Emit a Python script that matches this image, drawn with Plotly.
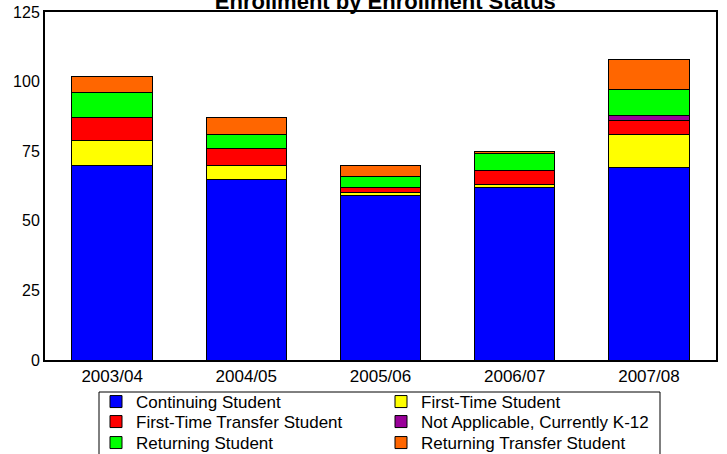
import plotly.graph_objects as go

years = ["2003/04", "2004/05", "2005/06", "2006/07", "2007/08"]
continuing = [70, 65, 59, 62, 69]
first_time = [9, 5, 1, 1, 12]
first_time_transfer = [8, 6, 2, 5, 5]
not_applicable = [0, 0, 0, 0, 2]
returning = [9, 5, 4, 6, 9]
returning_transfer = [6, 6, 4, 1, 11]

series = [
    ("Continuing Student", continuing, "#0000FF", "legend"),
    ("First-Time Student", first_time, "#FFFF00", "legend"),
    ("First-Time Transfer Student", first_time_transfer, "#FF0000", "legend2"),
    ("Not Applicable, Currently K-12", not_applicable, "#990099", "legend2"),
    ("Returning Student", returning, "#00FF00", "legend3"),
    ("Returning Transfer Student", returning_transfer, "#FF6600", "legend3"),
]

fig = go.Figure()
for name, vals, color, leg in series:
    fig.add_trace(go.Bar(
        x=years, y=vals, name=name, legend=leg,
        marker=dict(color=color, line=dict(color="#000000", width=1)),
    ))

font_family = "Liberation Sans, Arial, sans-serif"

# plot area in pixels: x 45..716, y 12..360
def px_x(p):
    return (p - 45) / 671.0

def px_y(p):
    return (360 - p) / 348.0

def row_legend(yc):
    return dict(
        orientation="h", traceorder="normal",
        x=px_x(96), xanchor="left",
        y=px_y(yc), yanchor="middle",
        entrywidth=240,
        borderwidth=0, bgcolor="rgba(0,0,0,0)",
        font=dict(family=font_family, size=17, color="black"),
    )

fig.update_layout(
    barmode="stack",
    bargap=0.4,
    width=727, height=454,
    margin=dict(l=45, r=11, t=12, b=94, autoexpand=False),
    paper_bgcolor="white",
    plot_bgcolor="white",
    font=dict(family=font_family, size=16, color="black"),
    title=dict(
        text="<b>Enrollment by Enrollment Status</b>",
        font=dict(family=font_family, size=22, color="black"),
        xref="container", x=0.53, xanchor="center",
        yref="container", y=1 - 9 / 454, yanchor="bottom",
    ),
    xaxis=dict(
        showline=True, linecolor="black", linewidth=2, mirror=True,
        ticks="", showgrid=False,
        tickfont=dict(size=17),
    ),
    yaxis=dict(
        range=[0, 125], tickvals=[0, 25, 50, 75, 100, 125],
        showline=True, linecolor="black", linewidth=2, mirror=True,
        ticks="", showgrid=False, zeroline=False,
        tickfont=dict(size=16),
        ticklabelstandoff=0,
    ),
    legend=row_legend(402),
    legend2=row_legend(422),
    legend3=row_legend(443),
    shapes=[dict(
        type="rect", xref="paper", yref="paper",
        x0=px_x(99), x1=px_x(660), y0=px_y(392), y1=px_y(470),
        line=dict(color="black", width=1), fillcolor="rgba(0,0,0,0)",
    )],
)

fig.write_html(
    "out.html",
    config={"displayModeBar": False},
    post_script="document.body.style.margin='0';",
)
